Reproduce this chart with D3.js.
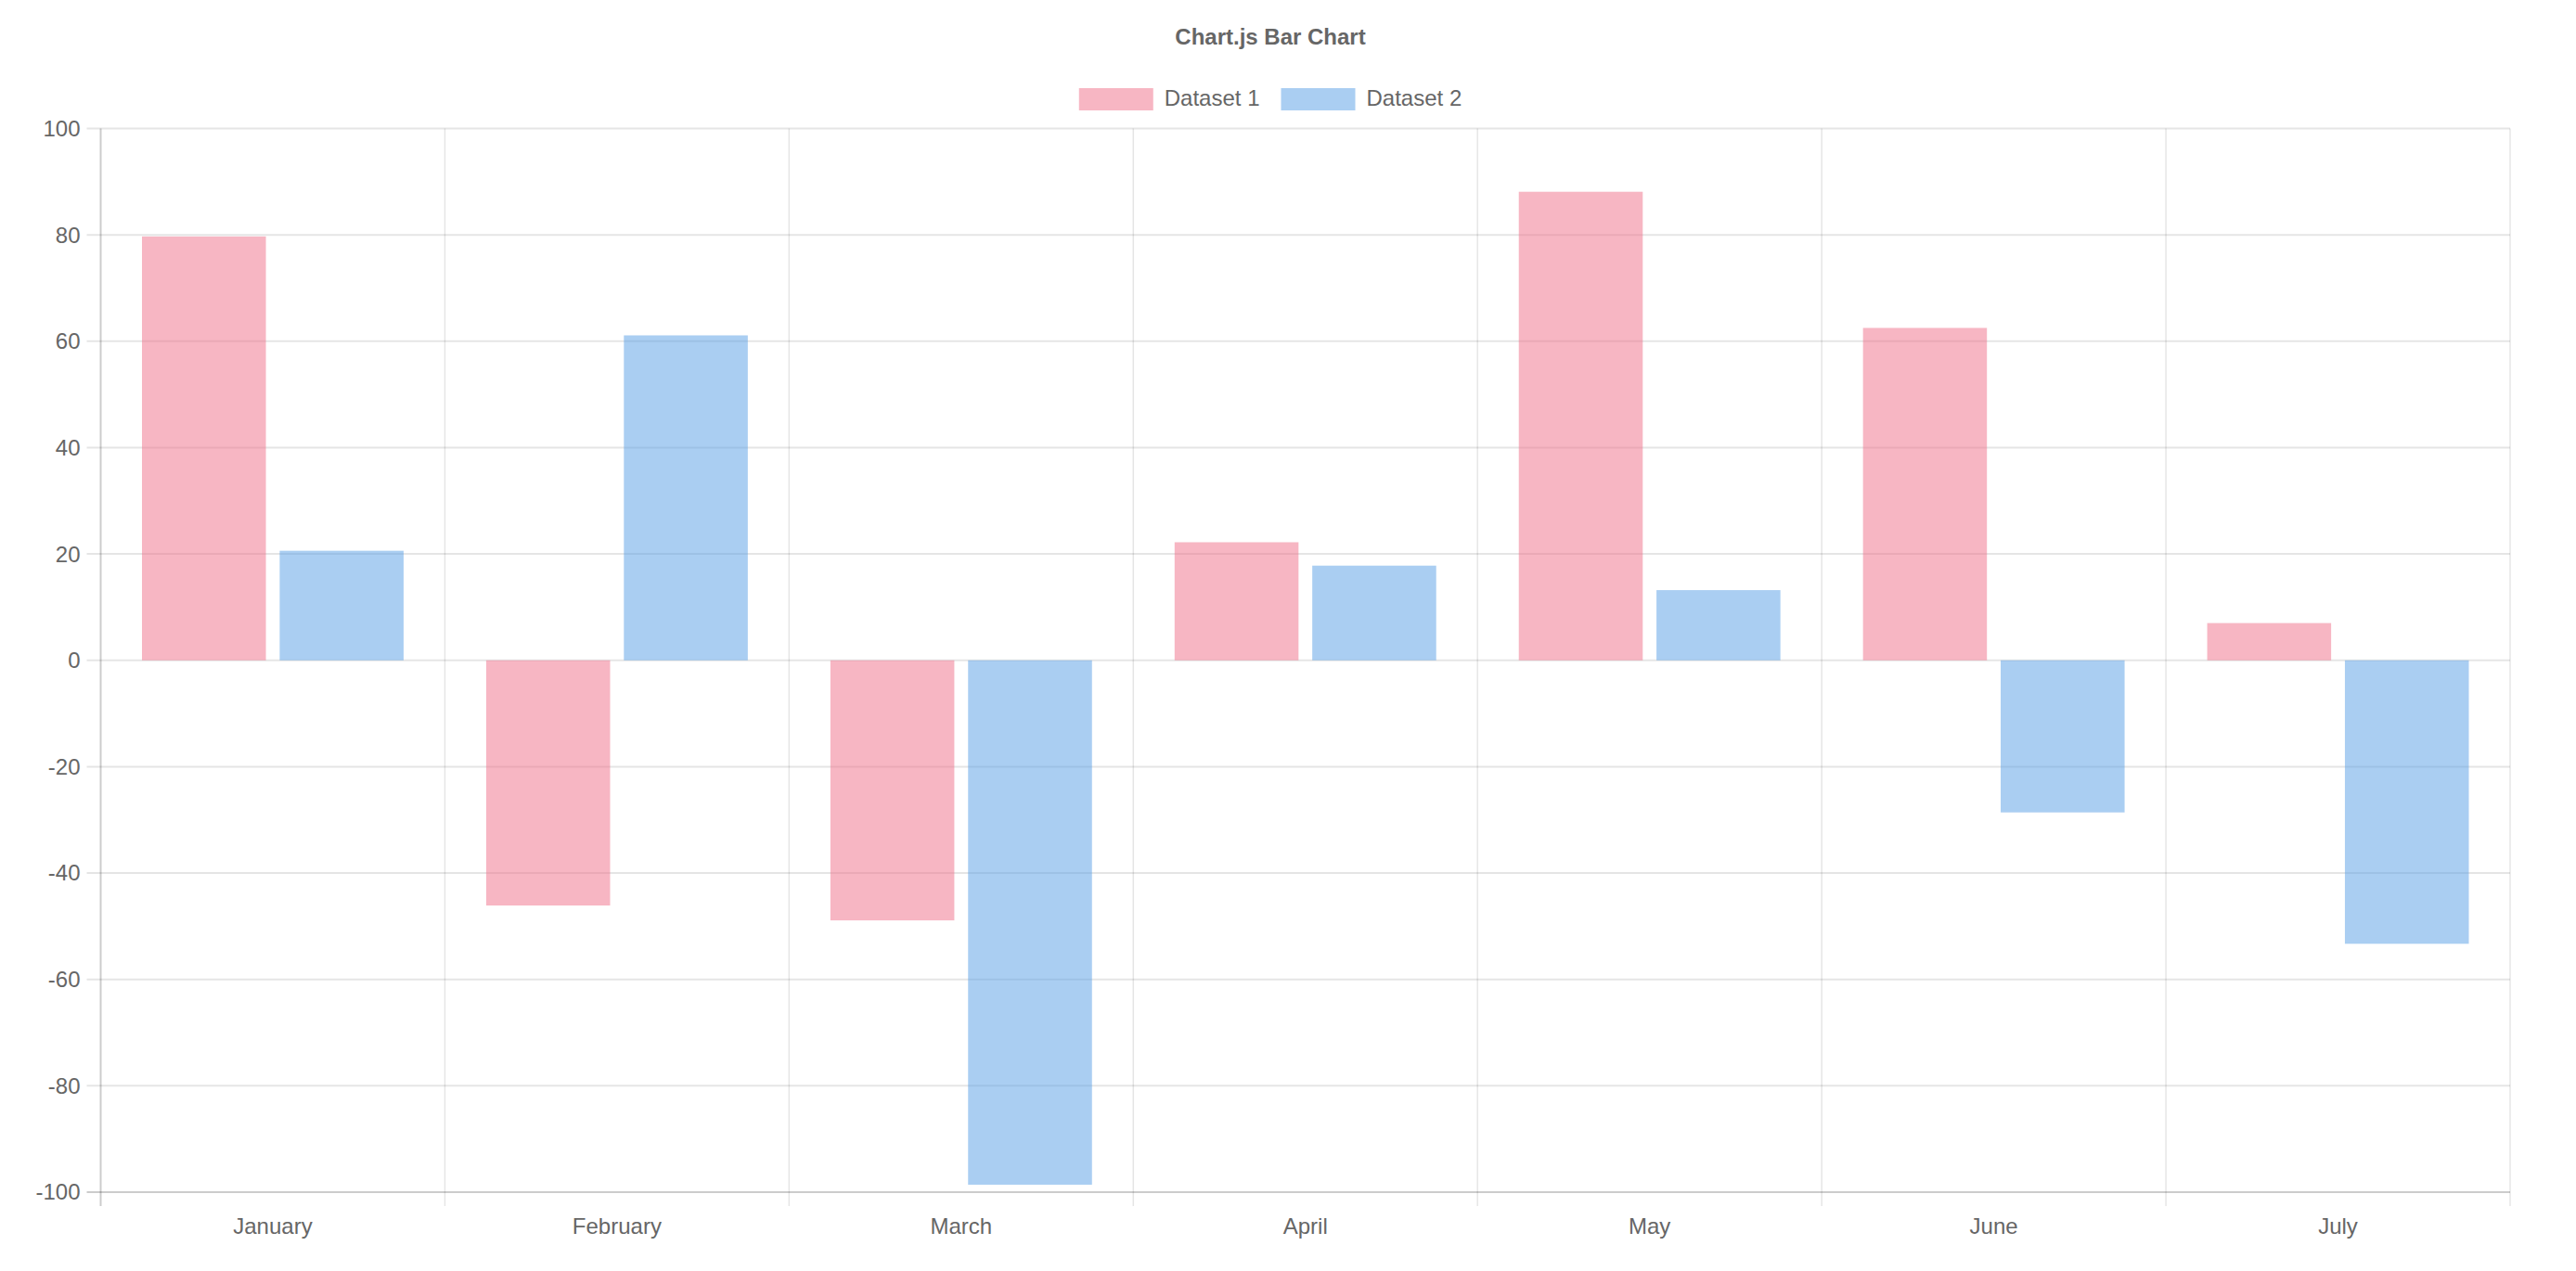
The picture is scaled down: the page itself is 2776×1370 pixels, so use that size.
<!DOCTYPE html>
<html>
<head>
<meta charset="utf-8">
<script src="https://cdn.jsdelivr.net/npm/d3@7"></script>
<style>
    body { margin: 0; background: #fff; }
    text { font-family: "Liberation Sans", Arial, Helvetica, sans-serif; fill: #666; }
</style>
</head>
<body>
<div id="chart"></div>
<script>
/*global d3*/
// data
var labels = ["January", "February", "March", "April", "May", "June", "July"];
var dataset1 = [79.7, -46.1, -48.9, 22.2, 88.1, 62.5, 7.0];
var dataset2 = [20.6, 61.1, -98.6, 17.8, 13.2, -28.6, -53.3];
var seriesNames = ["Dataset 1", "Dataset 2"];
var yTicks = [-100, -80, -60, -40, -20, 0, 20, 40, 60, 80, 100];

// sizes
var totalWidth = 2776, totalHeight = 1370,
    canvasWidth = 2738,
    margin = {top: 138.5, right: 71, bottom: 85, left: 108.5},
    width = totalWidth - margin.left - margin.right,
    height = totalHeight - margin.top - margin.bottom;

var fills = ["rgba(240,110,135,0.5)", "rgba(85,157,229,0.5)"];
var series = [dataset1, dataset2];

// scales
var x = d3.scaleBand()
    .domain(labels)
    .range([0, width]);
var x1 = d3.scaleBand()
    .domain([0, 1])
    .range([x.bandwidth() * 0.1, x.bandwidth() * 0.9])
    .paddingInner(0.1)
    .paddingOuter(0.05);
var y = d3.scaleLinear()
    .domain([-100, 100])
    .range([height, 0]);

var svg = d3.select("#chart").append("svg")
    .attr("width", totalWidth)
    .attr("height", totalHeight);

// title
svg.append("text")
    .attr("x", canvasWidth / 2)
    .attr("y", 48)
    .attr("text-anchor", "middle")
    .style("font-size", "24px")
    .style("font-weight", "bold")
    .text("Chart.js Bar Chart");

// legend, centred like Chart.js does it
var legend = svg.append("g");
var items = legend.selectAll("g")
    .data(seriesNames)
    .enter()
    .append("g");
items.append("rect")
    .attr("width", 80)
    .attr("height", 24)
    .attr("y", 95)
    .attr("fill", function(d, i) { return fills[i]; });
items.append("text")
    .attr("x", 92)
    .attr("y", 114)
    .style("font-size", "24px")
    .text(function(d) { return d; });
var offset = 0;
items.each(function() {
    var w = 92 + d3.select(this).select("text").node().getComputedTextLength();
    d3.select(this).attr("transform", "translate(" + offset + ",0)");
    offset += w + 23;
});
offset -= 23;
legend.attr("transform", "translate(" + (canvasWidth / 2 - offset / 2) + ",0)");

var g = svg.append("g")
    .attr("transform", "translate(" + margin.left + "," + margin.top + ")");

// horizontal grid + ticks on the left
g.selectAll(".hgrid")
    .data(yTicks)
    .enter()
    .append("line")
    .attr("x1", -15)
    .attr("x2", width)
    .attr("y1", function(d) { return y(d); })
    .attr("y2", function(d) { return y(d); })
    .attr("stroke", function(d) { return d === -100 ? "rgba(0,0,0,0.2)" : "rgba(0,0,0,0.1)"; })
    .attr("stroke-width", 2);

// vertical grid between categories
var edges = labels.map(function(d) { return x(d); }).concat([width]);
g.selectAll(".vgrid")
    .data(edges)
    .enter()
    .append("line")
    .attr("x1", function(d) { return d; })
    .attr("x2", function(d) { return d; })
    .attr("y1", 0)
    .attr("y2", height + 15)
    .attr("stroke", function(d, i) { return i === 0 ? "rgba(0,0,0,0.2)" : "rgba(0,0,0,0.1)"; })
    .attr("stroke-width", function(d, i) { return i === 0 ? 2 : 1.5; });

// y labels
g.selectAll(".ylab")
    .data(yTicks)
    .enter()
    .append("text")
    .attr("x", -22)
    .attr("y", function(d) { return y(d); })
    .attr("dy", "0.35em")
    .attr("text-anchor", "end")
    .style("font-size", "24px")
    .text(function(d) { return d; });

// x labels
g.selectAll(".xlab")
    .data(labels)
    .enter()
    .append("text")
    .attr("x", function(d) { return x(d) + x.bandwidth() / 2; })
    .attr("y", height + 45)
    .attr("text-anchor", "middle")
    .style("font-size", "24px")
    .text(function(d) { return d; });

// bars
series.forEach(function(values, s) {
    g.selectAll(".bar" + s)
        .data(values)
        .enter()
        .append("rect")
        .attr("x", function(d, i) { return x(labels[i]) + x1(s); })
        .attr("width", x1.bandwidth())
        .attr("y", function(d) { return y(Math.max(0, d)); })
        .attr("height", function(d) { return Math.abs(y(d) - y(0)); })
        .attr("fill", fills[s]);
});
</script>
</body>
</html>
